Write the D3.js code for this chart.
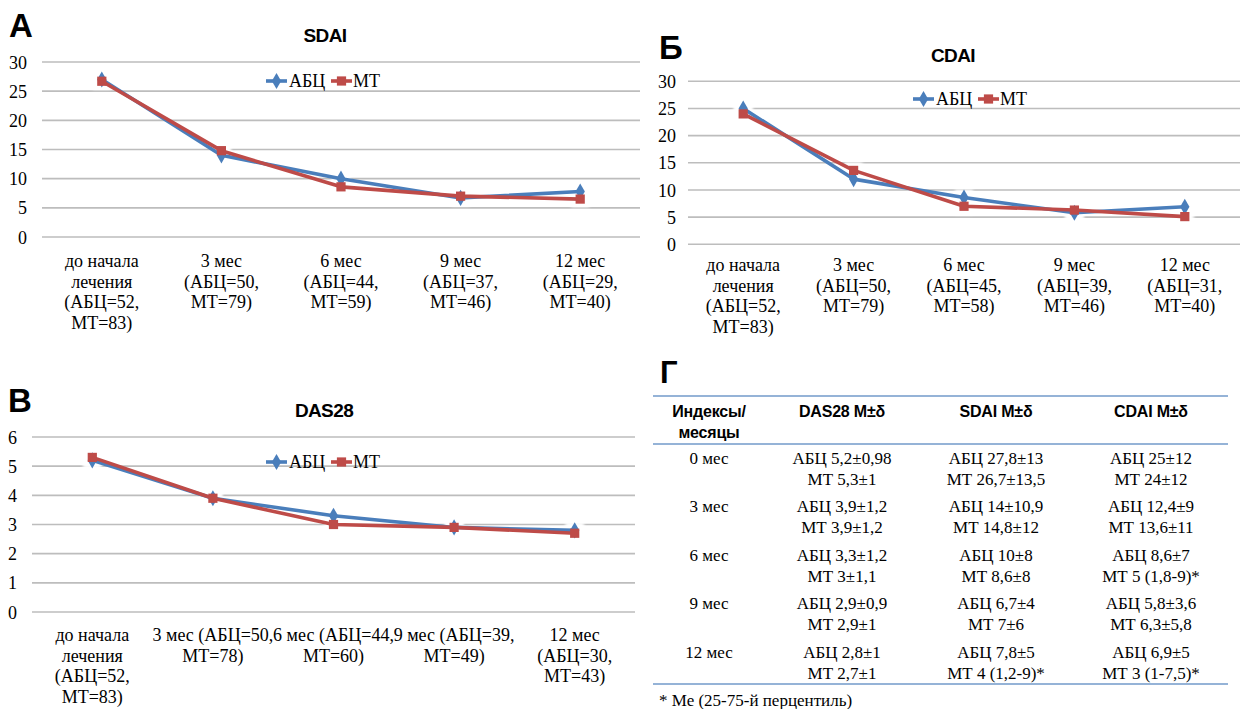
<!DOCTYPE html>
<html>
<head>
<meta charset="utf-8">
<script src="https://cdn.jsdelivr.net/npm/d3@7/dist/d3.min.js"></script>
<style>
  html, body { margin: 0; padding: 0; background: #ffffff; }
  svg { display: block; }
  .serif { font-family: "Liberation Serif", "Times New Roman", "DejaVu Serif", serif; }
  .sans { font-family: "Liberation Sans", Arial, "DejaVu Sans", sans-serif; }
</style>
</head>
<body>
<svg id="fig" width="1240" height="709"></svg>
<script>
// ---- data ----
const seriesNames = ["АБЦ", "МТ"];

const sdaiCategories = [
  ["до начала", "лечения", "(АБЦ=52,", "МТ=83)"],
  ["3 мес", "(АБЦ=50,", "МТ=79)"],
  ["6 мес", "(АБЦ=44,", "МТ=59)"],
  ["9 мес", "(АБЦ=37,", "МТ=46)"],
  ["12 мес", "(АБЦ=29,", "МТ=40)"]
];
const sdaiAbc = [27, 14, 10, 6.7, 7.8];
const sdaiMt = [26.7, 14.8, 8.6, 7, 6.5];
const sdaiTicks = [0, 5, 10, 15, 20, 25, 30];

const cdaiCategories = [
  ["до начала", "лечения", "(АБЦ=52,", "МТ=83)"],
  ["3 мес", "(АБЦ=50,", "МТ=79)"],
  ["6 мес", "(АБЦ=45,", "МТ=58)"],
  ["9 мес", "(АБЦ=39,", "МТ=46)"],
  ["12 мес", "(АБЦ=31,", "МТ=40)"]
];
const cdaiAbc = [25, 12, 8.6, 5.8, 6.9];
const cdaiMt = [24, 13.6, 7, 6.3, 5.1];
const cdaiTicks = [0, 5, 10, 15, 20, 25, 30];

const dasCategories = [
  ["до начала", "лечения", "(АБЦ=52,", "МТ=83)"],
  ["3 мес (АБЦ=50,", "МТ=78)"],
  ["6 мес (АБЦ=44,", "МТ=60)"],
  ["9 мес (АБЦ=39,", "МТ=49)"],
  ["12 мес", "(АБЦ=30,", "МТ=43)"]
];
const dasAbc = [5.2, 3.9, 3.3, 2.9, 2.8];
const dasMt = [5.3, 3.9, 3.0, 2.9, 2.7];
const dasTicks = [0, 1, 2, 3, 4, 5, 6];

const tableHeader = [["Индексы/", "месяцы"], ["DAS28 M±δ"], ["SDAI M±δ"], ["CDAI M±δ"]];
const tableMonths = ["0 мес", "3 мес", "6 мес", "9 мес", "12 мес"];
const tableDas = [
  ["АБЦ 5,2±0,98", "МТ 5,3±1"],
  ["АБЦ 3,9±1,2", "МТ 3,9±1,2"],
  ["АБЦ 3,3±1,2", "МТ 3±1,1"],
  ["АБЦ 2,9±0,9", "МТ 2,9±1"],
  ["АБЦ 2,8±1", "МТ 2,7±1"]
];
const tableSdai = [
  ["АБЦ 27,8±13", "МТ 26,7±13,5"],
  ["АБЦ 14±10,9", "МТ 14,8±12"],
  ["АБЦ 10±8", "МТ 8,6±8"],
  ["АБЦ 6,7±4", "МТ 7±6"],
  ["АБЦ 7,8±5", "МТ 4 (1,2-9)*"]
];
const tableCdai = [
  ["АБЦ 25±12", "МТ 24±12"],
  ["АБЦ 12,4±9", "МТ 13,6±11"],
  ["АБЦ 8,6±7", "МТ 5 (1,8-9)*"],
  ["АБЦ 5,8±3,6", "МТ 6,3±5,8"],
  ["АБЦ 6,9±5", "МТ 3 (1-7,5)*"]
];
const tableNote = "* Ме (25-75-й перцентиль)";

// ---- styles ----
const BLUE = "#4a7ebb";
const RED = "#be4b48";
const GRID = "#bdbdbd";
const FS = 18;

const svg = d3.select("#fig");
const defs = svg.append("defs");
defs.append("filter").attr("id", "halo").attr("x", "-50%").attr("y", "-50%").attr("width", "200%").attr("height", "200%")
  .append("feGaussianBlur").attr("stdDeviation", 1.5);

const diamond = d3.symbol().type(d3.symbolDiamond).size(75);
const square = d3.symbol().type(d3.symbolSquare).size(85);

function drawPanel(cfg) {
  const g = svg.append("g");
  const x = d3.scaleBand().domain(d3.range(cfg.categories.length)).range([cfg.left, cfg.right]);
  const y = d3.scaleLinear().domain([0, d3.max(cfg.ticks)]).range([cfg.bottom, cfg.top]);

  // panel letter and title
  g.append("text").attr("class", "sans").attr("x", cfg.letterX).attr("y", cfg.letterY)
    .attr("font-weight", "bold").attr("font-size", 33)
    .text(cfg.letter);
  g.append("text").attr("class", "sans").attr("x", cfg.titleX).attr("y", cfg.titleY).attr("text-anchor", "middle")
    .attr("font-weight", "bold").attr("font-size", 19)
    .attr("letter-spacing", -0.6)
    .text(cfg.title);

  // gridlines
  g.append("g").selectAll("line").data(cfg.ticks).join("line")
    .attr("x1", cfg.left).attr("x2", cfg.right)
    .attr("y1", d => y(d)).attr("y2", d => y(d))
    .attr("stroke", GRID).attr("stroke-width", 1.6);

  // y axis labels
  const yAxis = d3.axisLeft(y).tickValues(cfg.ticks).tickFormat(d3.format("d")).tickSize(0).tickPadding(0);
  const ya = g.append("g").attr("transform", `translate(${cfg.yLabelX},0)`).call(yAxis);
  ya.attr("font-family", null).attr("font-size", null);
  ya.select(".domain").remove();
  ya.selectAll("text").attr("class", "serif").attr("font-size", FS).attr("fill", "#000").attr("dy", "0.34em");

  // x axis category labels (multi-line)
  const xl = g.append("g");
  cfg.categories.forEach((lines, i) => {
    const t = xl.append("text").attr("class", "serif").attr("text-anchor", "middle")
      .attr("font-size", FS).attr("fill", "#000");
    lines.forEach((ln, j) => {
      t.append("tspan").attr("x", x(i) + x.bandwidth() / 2)
        .attr("y", cfg.xLabelY + j * 20.6).text(ln);
    });
  });

  const cx = i => x(i) + x.bandwidth() / 2;
  const series = [
    { values: cfg.abc, color: BLUE, sym: diamond },
    { values: cfg.mt, color: RED, sym: square }
  ];

  // white halos around markers
  series.forEach(s => {
    g.append("g").selectAll("rect").data(s.values).join("rect")
      .attr("x", (d, i) => cx(i) - 9).attr("y", d => y(d) - 8)
      .attr("width", 18).attr("height", 16)
      .attr("fill", "#fff").attr("filter", "url(#halo)");
  });

  const line = d3.line().x((d, i) => cx(i)).y(d => y(d));
  series.forEach(s => {
    g.append("path").datum(s.values).attr("d", line)
      .attr("fill", "none").attr("stroke", s.color).attr("stroke-width", 3.6)
      .attr("stroke-linejoin", "round");
  });
  series.forEach(s => {
    g.append("g").selectAll("path").data(s.values).join("path")
      .attr("transform", (d, i) => `translate(${cx(i)},${y(d)})`)
      .attr("d", s.sym).attr("fill", s.color);
  });

  // legend
  const lg = g.append("g").attr("transform", `translate(${cfg.legendX},${cfg.legendY})`);
  const items = [
    { name: seriesNames[0], color: BLUE, sym: diamond, x0: 0, tx: 23 },
    { name: seriesNames[1], color: RED, sym: square, x0: 65, tx: 87 }
  ];
  items.forEach(it => {
    lg.append("line").attr("x1", it.x0).attr("x2", it.x0 + 21).attr("y1", 0).attr("y2", 0)
      .attr("stroke", it.color).attr("stroke-width", 3.6);
    lg.append("path").attr("transform", `translate(${it.x0 + 10.5},0)`).attr("d", it.sym).attr("fill", it.color);
    lg.append("text").attr("class", "serif").attr("x", it.tx).attr("y", 6).attr("font-size", FS)
      .text(it.name);
  });
}

drawPanel({
  letter: "А", letterX: 9, letterY: 37, title: "SDAI", titleX: 325, titleY: 42,
  categories: sdaiCategories, abc: sdaiAbc, mt: sdaiMt, ticks: sdaiTicks,
  left: 42, right: 640, top: 62, bottom: 237, yLabelX: 27, xLabelY: 267,
  legendX: 266, legendY: 81
});

drawPanel({
  letter: "Б", letterX: 659, letterY: 59, title: "CDAI", titleX: 953, titleY: 62,
  categories: cdaiCategories, abc: cdaiAbc, mt: cdaiMt, ticks: cdaiTicks,
  left: 688, right: 1240, top: 81.3, bottom: 244.3, yLabelX: 676, xLabelY: 271,
  legendX: 913, legendY: 99
});

drawPanel({
  letter: "В", letterX: 8, letterY: 412, title: "DAS28", titleX: 324, titleY: 417,
  categories: dasCategories, abc: dasAbc, mt: dasMt, ticks: dasTicks,
  left: 32, right: 635, top: 437, bottom: 612, yLabelX: 17, xLabelY: 641,
  legendX: 266, legendY: 462
});

// ---- table Г ----
const tg = svg.append("g");
tg.append("text").attr("class", "sans").attr("x", 660).attr("y", 383)
  .attr("font-weight", "bold").attr("font-size", 31).text("Г");

const colX = [709, 842, 996, 1151];
const ruleColor = "#95b3d7";
[396, 444, 684].forEach(yy => {
  tg.append("line").attr("x1", 653).attr("x2", 1228).attr("y1", yy).attr("y2", yy)
    .attr("stroke", ruleColor).attr("stroke-width", 2);
});

tableHeader.forEach((lines, c) => {
  const t = tg.append("text").attr("class", "sans").attr("text-anchor", "middle")
    .attr("font-weight", "bold").attr("font-size", 16)
    .attr("letter-spacing", -0.2);
  lines.forEach((ln, j) => t.append("tspan").attr("x", colX[c]).attr("y", 417 + j * 21).text(ln));
});

const rowY = [464, 512, 561, 609, 658];
const cellCols = [tableDas, tableSdai, tableCdai];
tableMonths.forEach((m, r) => {
  tg.append("text").attr("class", "serif").attr("x", colX[0]).attr("y", rowY[r]).attr("text-anchor", "middle")
    .attr("font-size", 17).text(m);
  cellCols.forEach((col, c) => {
    const t = tg.append("text").attr("class", "serif").attr("text-anchor", "middle")
      .attr("font-size", 17);
    col[r].forEach((ln, j) => t.append("tspan").attr("x", colX[c + 1]).attr("y", rowY[r] + j * 20.5).text(ln));
  });
});

tg.append("text").attr("class", "serif").attr("x", 659).attr("y", 706).attr("font-size", 17)
  .text(tableNote);
</script>
</body>
</html>
